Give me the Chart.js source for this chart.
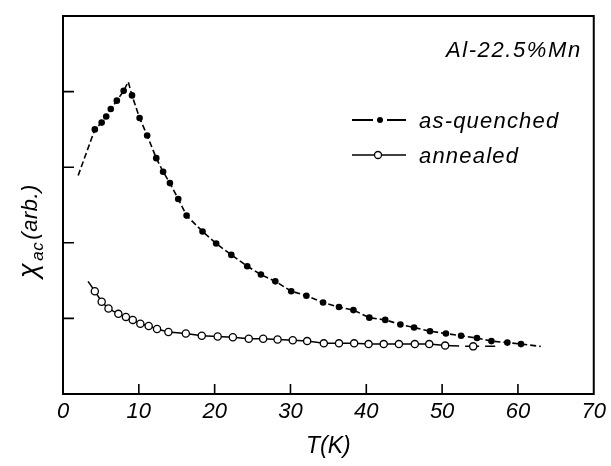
<!DOCTYPE html>
<html>
<head>
<meta charset="utf-8">
<title>Al-22.5%Mn ac susceptibility</title>
<script src="https://cdn.jsdelivr.net/npm/chart.js@4.4.1/dist/chart.umd.min.js"></script>
<style>
  html, body { margin: 0; padding: 0; background: #fff; }
  .chart-box { position: relative; width: 611px; height: 466px; }
</style>
</head>
<body>
<div class="chart-box"><canvas id="chiChart"></canvas></div>
<script>
// Values: T in K, chi_ac in arbitrary units (one y tick = 1 unit)
const quenchedT = [4.2, 5.1, 5.7, 6.3, 7.1, 8.0, 9.1, 10.1, 11.1, 12.3, 13.2, 14.1, 15.2, 16.3,
  18.4, 20.2, 22.2, 24.3, 26.1, 28.0, 30.1, 32.1, 34.3, 36.4, 38.3, 40.4, 42.5, 44.5, 46.3,
  48.4, 50.5, 52.5, 54.6, 56.5, 58.6, 60.4];
const quenchedChi = [3.50, 3.59, 3.67, 3.77, 3.88, 4.01, 3.95, 3.65, 3.42, 3.12, 2.94, 2.79, 2.58, 2.36,
  2.15, 1.99, 1.84, 1.69, 1.58, 1.49, 1.36, 1.30, 1.21, 1.15, 1.11, 1.01, 0.98, 0.92, 0.88,
  0.83, 0.80, 0.77, 0.74, 0.70, 0.68, 0.66];
// the drawn dash-dot curve starts below the first dot, has a cusp and runs past the last dot
const quenchedCurveT = [2.0, 8.6, 63.0];
const quenchedCurveChi = [2.89, 4.13, 0.63];

const annealedT = [4.2, 5.1, 6.0, 7.3, 8.3, 9.2, 10.2, 11.3, 12.4, 13.9, 16.2, 18.3, 20.4, 22.4,
  24.5, 26.4, 28.3, 30.3, 32.2, 34.4, 36.4, 38.4, 40.3, 42.3, 44.3, 46.4, 48.3, 50.4, 54.1];
const annealedChi = [1.36, 1.22, 1.13, 1.06, 1.02, 0.98, 0.93, 0.90, 0.86, 0.82, 0.80, 0.77, 0.76, 0.75,
  0.73, 0.73, 0.72, 0.71, 0.70, 0.67, 0.67, 0.67, 0.66, 0.66, 0.66, 0.66, 0.66, 0.64, 0.63];
const annealedCurveT = [3.3, 57.0];
const annealedCurveChi = [1.49, 0.63];

const xTicks = [0, 10, 20, 30, 40, 50, 60, 70];
const yTicks = [1, 2, 3, 4];
const seriesNames = ['as-quenched', 'annealed'];
const sampleName = 'Al-22.5%Mn';
const xTitle = 'T(K)';

const FONT = '"Liberation Sans", Arial, sans-serif';

function toPoints(xs, ys) {
  return xs.map((x, i) => ({ x, y: ys[i] }));
}
// fitted curve = measured points plus the extra anchors, sorted along T
function curve(xs, ys, cx, cy) {
  return toPoints(xs, ys).concat(toPoints(cx, cy)).sort((a, b) => a.x - b.x);
}

/* frame, inward ticks, legend, label, y title */
const framePlugin = {
  id: 'frame',
  afterDatasetsDraw(chart) {
    const { ctx, chartArea: a, scales: { x, y } } = chart;
    ctx.save();
    ctx.strokeStyle = '#000';
    ctx.lineWidth = 2;
    ctx.strokeRect(a.left, a.top, a.right - a.left, a.bottom - a.top);

    ctx.lineWidth = 1.6;
    ctx.beginPath();
    xTicks.slice(1, -1).forEach(v => {
      const px = x.getPixelForValue(v);
      ctx.moveTo(px, a.bottom);
      ctx.lineTo(px, a.bottom - 10);
    });
    yTicks.forEach(v => {
      const py = y.getPixelForValue(v);
      ctx.moveTo(a.left, py);
      ctx.lineTo(a.left + 11, py);
    });
    ctx.stroke();

    // sample name, top right inside the frame
    ctx.fillStyle = '#000';
    ctx.font = 'italic 22px ' + FONT;
    ctx.letterSpacing = '1.6px';
    ctx.textAlign = 'right';
    ctx.textBaseline = 'alphabetic';
    ctx.fillText(sampleName, a.right - 12, 57);

    // legend
    ctx.font = 'italic 22px ' + FONT;
    ctx.letterSpacing = '1.2px';
    ctx.textAlign = 'left';
    const lx = 352, rows = [120, 155];
    // as-quenched: dash - dot - dash
    ctx.lineWidth = 1.8;
    ctx.beginPath();
    ctx.moveTo(lx, rows[0]); ctx.lineTo(lx + 21, rows[0]);
    ctx.moveTo(lx + 35, rows[0]); ctx.lineTo(lx + 54, rows[0]);
    ctx.stroke();
    ctx.beginPath();
    ctx.arc(lx + 28, rows[0], 3, 0, Math.PI * 2);
    ctx.fill();
    ctx.fillText(seriesNames[0], lx + 67, rows[0] + 8);
    // annealed: line with open circle
    ctx.lineWidth = 1.5;
    ctx.beginPath();
    ctx.moveTo(lx, rows[1]); ctx.lineTo(lx + 54, rows[1]);
    ctx.stroke();
    ctx.beginPath();
    ctx.arc(lx + 26, rows[1], 3.5, 0, Math.PI * 2);
    ctx.fillStyle = '#fff';
    ctx.fill();
    ctx.lineWidth = 1.3;
    ctx.stroke();
    ctx.fillStyle = '#000';
    ctx.fillText(seriesNames[1], lx + 67, rows[1] + 8);

    // y title: chi with subscript "ac", rotated
    ctx.letterSpacing = '0.5px';
    const big = 'italic 27px ' + FONT, sub = 'italic 17px ' + FONT, par = 'italic 22px ' + FONT;
    const parts = [['\u03C7', big, 0], ['ac', sub, 6], ['(arb.)', par, 0]];
    let total = 0;
    parts.forEach(p => { ctx.font = p[1]; total += ctx.measureText(p[0]).width + 2; });
    ctx.translate(37, 230);
    ctx.rotate(-Math.PI / 2);
    let cx = -total / 2;
    parts.forEach(p => {
      ctx.font = p[1];
      ctx.fillText(p[0], cx, p[2]);
      cx += ctx.measureText(p[0]).width + 2;
    });
    ctx.restore();
  }
};

new Chart(document.getElementById('chiChart'), {
  type: 'scatter',
  data: {
    datasets: [
      {
        label: seriesNames[0] + ' curve',
        data: curve(quenchedT, quenchedChi, quenchedCurveT, quenchedCurveChi),
        showLine: true, borderColor: '#000', borderWidth: 1.6, borderDash: [6, 3],
        pointRadius: 0, tension: 0, order: 2
      },
      {
        label: seriesNames[1] + ' curve',
        data: curve(annealedT, annealedChi, annealedCurveT, annealedCurveChi),
        showLine: true, borderColor: '#000', borderWidth: 1.5,
        pointRadius: 0, tension: 0, order: 2,
        segment: { borderDash: c => c.p0.parsed.x >= 50 ? [14, 6] : undefined }
      },
      {
        label: seriesNames[0],
        data: toPoints(quenchedT, quenchedChi),
        showLine: false, pointRadius: 3.3, pointBackgroundColor: '#000',
        pointBorderColor: '#000', pointBorderWidth: 0, order: 1
      },
      {
        label: seriesNames[1],
        data: toPoints(annealedT, annealedChi),
        showLine: false, pointRadius: 3.6, pointBackgroundColor: '#fff',
        pointBorderColor: '#000', pointBorderWidth: 1.3, order: 1
      }
    ]
  },
  options: {
    responsive: true,
    maintainAspectRatio: false,
    animation: false,
    layout: { padding: { left: 63, right: 15, top: 16, bottom: 6 } },
    plugins: { legend: { display: false }, tooltip: { enabled: false } },
    scales: {
      x: {
        type: 'linear', min: 0, max: 70,
        afterBuildTicks: s => { s.ticks = xTicks.map(v => ({ value: v })); },
        grid: { display: false, drawTicks: false },
        border: { display: false },
        ticks: { color: '#000', padding: 5, font: { family: FONT, size: 22, style: 'italic' } },
        title: {
          display: true, text: xTitle, color: '#000',
          font: { family: FONT, size: 23, style: 'italic' }, padding: { top: 2, bottom: 0 }
        }
      },
      y: {
        type: 'linear', min: 0, max: 5,
        afterBuildTicks: s => { s.ticks = yTicks.map(v => ({ value: v })); },
        grid: { display: false, drawTicks: false },
        border: { display: false },
        ticks: { display: false }
      }
    }
  },
  plugins: [framePlugin]
});
</script>
</body>
</html>
